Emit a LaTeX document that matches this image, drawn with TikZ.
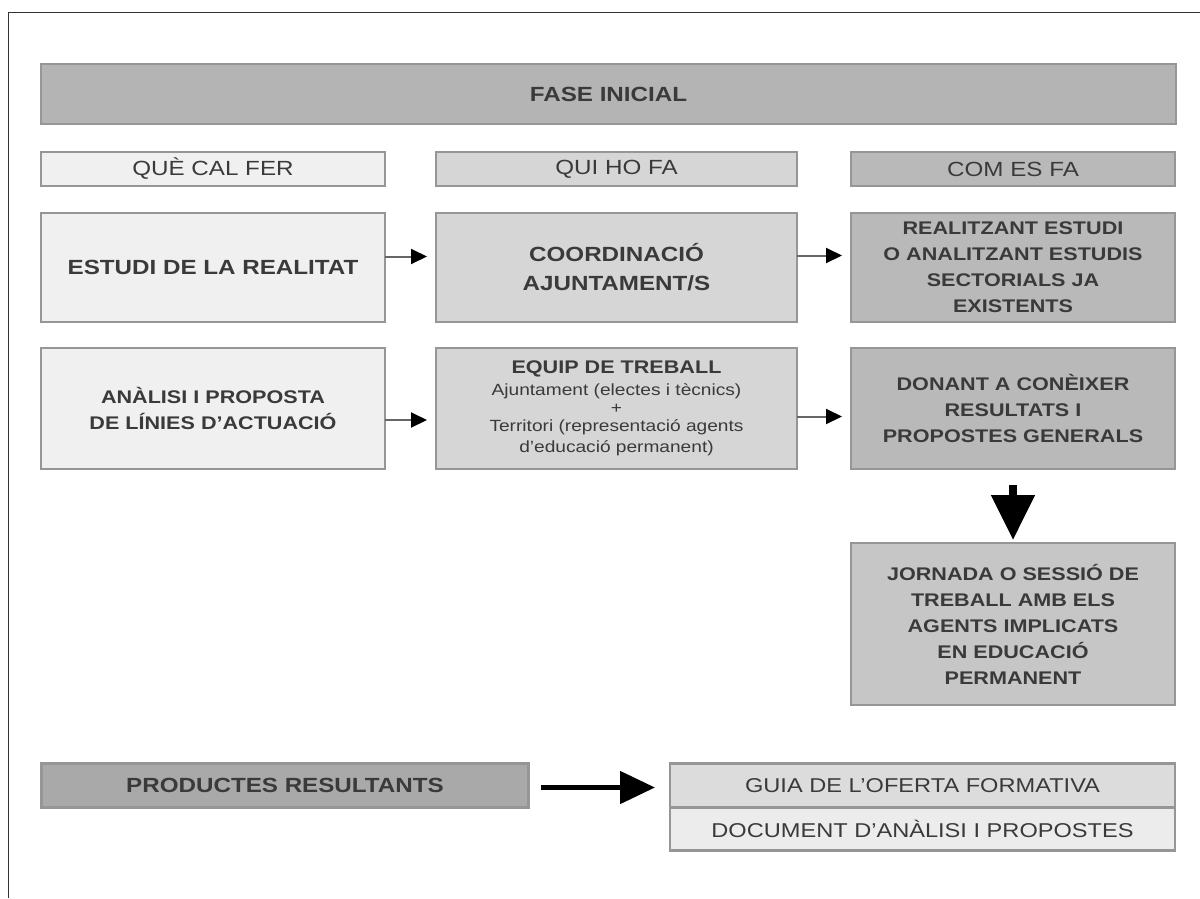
\documentclass[tikz,border=0pt]{standalone}
\usepackage{fontspec}
\setmainfont{Liberation Sans}[FakeStretch=1.18]
\usetikzlibrary{arrows.meta}
\definecolor{txt}{HTML}{3A3A3A}
\definecolor{bord}{HTML}{969696}
\definecolor{fA}{HTML}{B4B4B4}
\definecolor{fLight}{HTML}{F0F0F0}
\definecolor{fMid}{HTML}{D6D6D6}
\definecolor{fDark}{HTML}{B9B9B9}
\definecolor{fJor}{HTML}{C6C6C6}
\definecolor{fProd}{HTML}{A9A9A9}
\definecolor{fGuia}{HTML}{DCDCDC}
\definecolor{fDoc}{HTML}{ECECEC}
\tikzset{
  box/.style={draw=bord, line width=2.5pt, inner sep=0pt, outer sep=0pt, align=center, text=txt},
  bigf/.style={font=\fontsize{20.5}{27}\selectfont\bfseries},
  medf/.style={font=\fontsize{18.3}{26}\selectfont\bfseries},
  hdrf/.style={font=\fontsize{20.5}{23}\selectfont},
  smallarr/.style={draw=black!60, line width=2pt, -{Triangle[length=16pt,width=15pt,color=black]}},
  bigarr/.style={draw=black, line width=8pt, -{Triangle[length=45pt,width=42pt]}},
  prodarr/.style={draw=black, line width=5pt, -{Triangle[length=35pt,width=32pt]}}
}
\begin{document}
\begin{tikzpicture}[x=1pt,y=-1pt]
\useasboundingbox (0,0) rectangle (1200,898);
\fill[white] (0,0) rectangle (1200,898);
\draw[line width=1.8pt, black!80] (8.5,898) -- (8.5,12.5) -- (1200,12.5);

\node[box, fill=fA, bigf, minimum width=1135pt, minimum height=60pt] (fase) at (608.5,94) {FASE INICIAL};

\node[box, fill=fLight, hdrf, minimum width=344pt, minimum height=34pt] (h1) at (213,169) {QUÈ CAL FER};
\node[box, fill=fMid, hdrf, minimum width=361pt, minimum height=34pt] (h2) at (616.5,169) {QUI HO FA};
\node[box, fill=fDark, hdrf, minimum width=324pt, minimum height=34pt] (h3) at (1013,169) {COM ES FA};

\node[box, fill=fLight, bigf, minimum width=344pt, minimum height=109pt] (a1) at (213,267.5) {ESTUDI DE LA REALITAT};
\node[box, fill=fMid, minimum width=361pt, minimum height=109pt, font=\fontsize{20.5}{29}\selectfont\bfseries] (b1) at (616.5,267.5) {COORDINACIÓ\\AJUNTAMENT/S};
\node[box, fill=fDark, medf, minimum width=324pt, minimum height=109pt] (c1) at (1013,267.5) {REALITZANT ESTUDI\\O ANALITZANT ESTUDIS\\SECTORIALS JA\\EXISTENTS};

\node[box, fill=fLight, medf, minimum width=344pt, minimum height=121pt] (a2) at (213,408.5) {ANÀLISI I PROPOSTA\\DE LÍNIES D'ACTUACIÓ};
\node[box, fill=fMid, font=\fontsize{16.2}{19}\selectfont, minimum width=361pt, minimum height=121pt] (b2) at (616.5,408.5)
  {{\fontsize{18.3}{20}\selectfont\bfseries EQUIP DE TREBALL}\\[3pt]Ajuntament (electes i tècnics)\\[-1pt]+\\[-1pt]Territori (representació agents\\[2pt]d'educació permanent)};
\node[box, fill=fDark, medf, minimum width=324pt, minimum height=121pt] (c2) at (1013,408.5) {DONANT A CONÈIXER\\RESULTATS I\\PROPOSTES GENERALS};

\node[box, fill=fJor, medf, minimum width=324pt, minimum height=162pt] (jor) at (1013,624) {JORNADA O SESSIÓ DE\\TREBALL AMB ELS\\AGENTS IMPLICATS\\EN EDUCACIÓ\\PERMANENT};

\node[box, fill=fProd, bigf, minimum width=487pt, minimum height=44pt] (prod) at (285,785.5) {PRODUCTES RESULTANTS};
\node[box, fill=fGuia, font=\fontsize{20}{22}\selectfont, minimum width=505pt, minimum height=44pt] (guia) at (922.5,785.5) {GUIA DE L'OFERTA FORMATIVA};
\node[box, fill=fDoc, font=\fontsize{20}{22}\selectfont, minimum width=505pt, minimum height=43pt] (doc) at (922.5,829) {DOCUMENT D'ANÀLISI I PROPOSTES};

\draw[smallarr, shorten >=9pt] ([yshift=11pt]a1.east) -- ([yshift=11pt]b1.west);
\draw[smallarr, shorten >=9pt] ([yshift=12pt]b1.east) -- ([yshift=12pt]c1.west);
\draw[smallarr, shorten >=9pt] ([yshift=-11.5pt]a2.east) -- ([yshift=-11.5pt]b2.west);
\draw[smallarr, shorten >=9pt] ([yshift=-8pt]b2.east) -- ([yshift=-8pt]c2.west);

\draw[bigarr, shorten <=16pt, shorten >=3pt] (c2.south) -- (jor.north);
\draw[prodarr, shorten <=12pt, shorten >=15pt] ([yshift=-2pt]prod.east) -- ([yshift=-2pt]guia.west);
\end{tikzpicture}
\end{document}
